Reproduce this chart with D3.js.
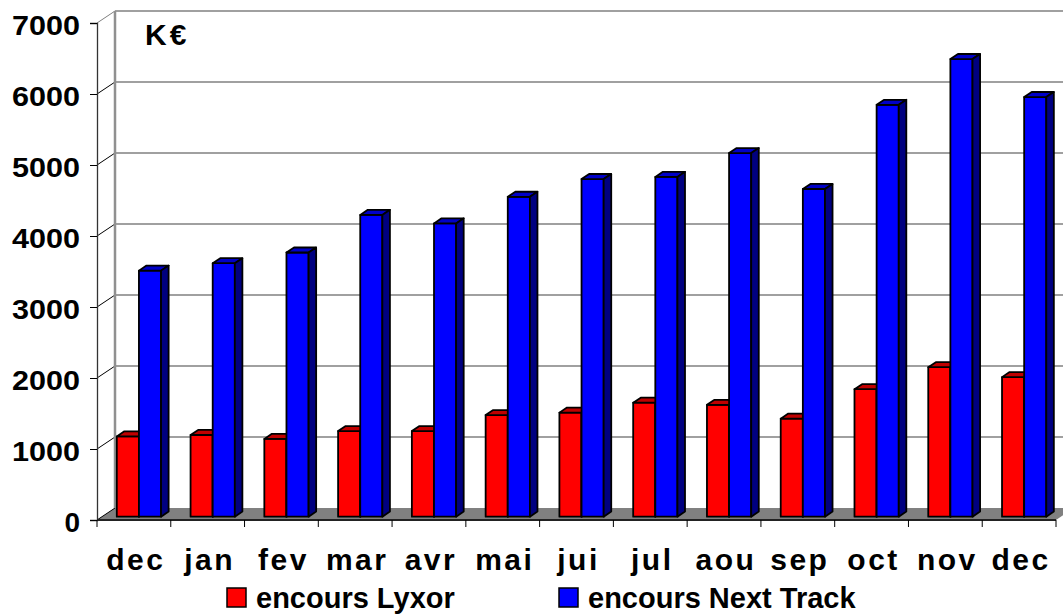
<!DOCTYPE html>
<html>
<head>
<meta charset="utf-8">
<script src="https://cdn.jsdelivr.net/npm/d3@7"></script>
<style>
  body { margin: 0; background: #fff; }
  text { font-family: "Liberation Sans", Arial, sans-serif; font-weight: bold; fill: #000; }
</style>
</head>
<body>
<div id="chart"></div>
<script>
// data
const months = ["dec", "jan", "fev", "mar", "avr", "mai", "jui", "jul", "aou", "sep", "oct", "nov", "dec"];
const lyxor = [1130, 1150, 1095, 1205, 1205, 1430, 1465, 1605, 1575, 1380, 1795, 2105, 1965];
const nextTrack = [3465, 3570, 3720, 4250, 4130, 4505, 4755, 4785, 5120, 4615, 5800, 6445, 5910];
const seriesNames = ["encours Lyxor", "encours Next Track"];
const yTicks = [0, 1000, 2000, 3000, 4000, 5000, 6000, 7000];

const width = 1063, height = 615;
const DX = 18, DY = -12;          // full depth offset of the back wall
const F0 = 0.28, F1 = 0.7;        // bar front / back depth
const colors = [
  { front: "#ff0000", top: "#c00000", side: "#800000" },
  { front: "#0000ff", top: "#0000c8", side: "#000080" }
];

const svg = d3.select("#chart").append("svg")
  .attr("width", width)
  .attr("height", height);

const x = d3.scaleBand().domain(d3.range(months.length)).range([97, 1056]);
const y = d3.scaleLinear().domain([0, 7000]).range([520, 23]);
const inner = d3.scaleBand().domain([0, 1])
  .range([x.bandwidth() * 0.2, x.bandwidth() * 0.8]);

const xl = x.range()[0], xr = x.range()[1];
const y0 = y(0);

// floor
svg.append("polygon")
  .attr("points", [[xl, y0], [xr, y0], [xr + DX, y0 + DY], [xl + DX, y0 + DY]].join(" "))
  .attr("fill", "#808080");

// back wall grid
svg.append("g")
  .selectAll("line")
  .data(yTicks.slice(1))
  .enter().append("line")
  .attr("x1", xl + DX).attr("x2", width + 20)
  .attr("y1", d => y(d) + DY).attr("y2", d => y(d) + DY)
  .attr("stroke", "#808080").attr("stroke-width", 1.6);

// side wall diagonals
svg.append("g")
  .selectAll("line")
  .data(yTicks)
  .enter().append("line")
  .attr("x1", xl).attr("x2", xl + DX)
  .attr("y1", d => y(d)).attr("y2", d => y(d) + DY)
  .attr("stroke", d => d === 7000 ? "#808080" : "#000")
  .attr("stroke-width", 1);

// back wall left edge
svg.append("line")
  .attr("x1", xl + DX).attr("x2", xl + DX)
  .attr("y1", y(7000) + DY).attr("y2", y0 + DY)
  .attr("stroke", "#909090").attr("stroke-width", 2.5);

// y axis
const yAxis = svg.append("g")
  .attr("transform", `translate(${xl},0)`)
  .call(d3.axisLeft(y).tickValues(yTicks).tickSize(7).tickPadding(10).tickFormat(d3.format("d")));
yAxis.select(".domain").attr("stroke", "#333").attr("stroke-width", 1.3);
yAxis.selectAll(".tick line").attr("stroke", "#000");
yAxis.selectAll("text")
  .attr("font-size", 28)
  .attr("font-family", null)
  .attr("dy", "0.4em")
  .attr("textLength", d => d === 0 ? null : 68)
  .attr("lengthAdjust", "spacingAndGlyphs");

// x axis front edge and ticks at category boundaries
svg.append("line")
  .attr("x1", xl).attr("x2", xr)
  .attr("y1", y0).attr("y2", y0)
  .attr("stroke", "#222").attr("stroke-width", 2);
svg.append("g")
  .selectAll("line")
  .data(d3.range(months.length + 1))
  .enter().append("line")
  .attr("x1", i => xl + i * x.step()).attr("x2", i => xl + i * x.step())
  .attr("y1", y0).attr("y2", y0 + 7)
  .attr("stroke", "#000").attr("stroke-width", 1);

svg.append("g")
  .selectAll("text")
  .data(months)
  .enter().append("text")
  .attr("x", (d, i) => x(i) + x.bandwidth() / 2 + 2)
  .attr("y", 570)
  .attr("text-anchor", "middle")
  .attr("font-size", 30)
  .style("letter-spacing", "2.5px")
  .text(d => d);

// bars
function bar(g, x0, w, v, c) {
  const yt = y(v);
  const fx = x0 + F0 * DX, bx = x0 + F1 * DX;
  const fyT = yt + F0 * DY, byT = yt + F1 * DY;
  const fyB = y0 + F0 * DY, byB = y0 + F1 * DY;
  const style = sel => sel.attr("stroke", "#000").attr("stroke-width", 1.8).attr("stroke-linejoin", "round");
  g.append("polygon")
    .attr("points", [[fx, fyT], [fx + w, fyT], [fx + w, fyB], [fx, fyB]].join(" "))
    .attr("fill", c.front).call(style);
  g.append("polygon")
    .attr("points", [[fx, fyT], [fx + w, fyT], [bx + w, byT], [bx, byT]].join(" "))
    .attr("fill", c.top).call(style);
  g.append("polygon")
    .attr("points", [[fx + w, fyT], [bx + w, byT], [bx + w, byB], [fx + w, fyB]].join(" "))
    .attr("fill", c.side).call(style);
}

const bars = svg.append("g").attr("class", "bars");
months.forEach((m, i) => {
  [lyxor, nextTrack].forEach((series, s) => {
    bar(bars, x(i) + inner(s), inner.bandwidth(), series[i], colors[s]);
  });
});

// unit label
svg.append("text")
  .attr("x", 145).attr("y", 45)
  .attr("font-size", 30)
  .style("letter-spacing", "3px")
  .text("K€");

// legend
const legendX = [227, 559];
const legend = svg.append("g")
  .selectAll("g")
  .data(seriesNames)
  .enter().append("g")
  .attr("transform", (d, i) => `translate(${legendX[i]},588)`);
legend.append("rect")
  .attr("width", 19).attr("height", 19)
  .attr("fill", (d, i) => colors[i].front)
  .attr("stroke", "#000").attr("stroke-width", 1.5);
legend.append("text")
  .attr("x", 29).attr("y", 20)
  .attr("font-size", 29)
  .text(d => d);
</script>
</body>
</html>
